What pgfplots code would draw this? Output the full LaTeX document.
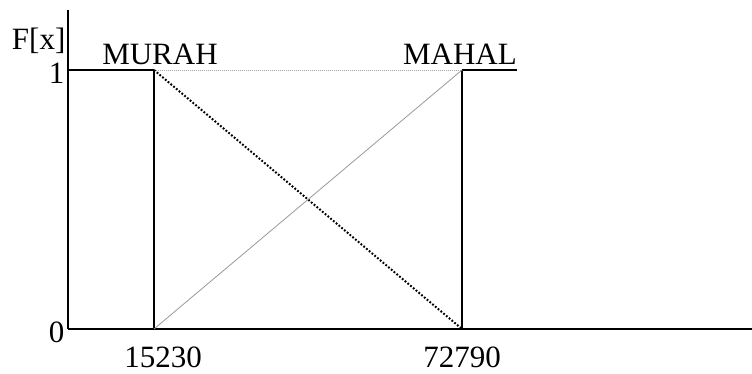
\documentclass[border=0pt]{standalone}
\usepackage{pgfplots}
\pgfplotsset{compat=1.18}
\usepackage{fontspec}
\setmainfont{Liberation Serif}
\begin{document}
\begin{tikzpicture}[x=1pt,y=1pt]
\useasboundingbox (0,0) rectangle (752,374);
\begin{axis}[
  at={(68pt,45pt)}, anchor=south west,
  scale only axis, width=684pt, height=319pt,
  xmin=-842, xmax=126985, ymin=0, ymax=1.2317,
  axis lines=left,
  axis line style={-, line width=1.4pt, black},
  scaled x ticks=false,
  xtick={15230,72790}, ytick={0,1},
  xticklabels={\hspace{18pt}15230,72790\hspace{6pt}}, yticklabels={0,1},
  major tick length=0pt,
  tick label style={font=\fontsize{31}{34}\selectfont, text=black},
  /pgf/number format/assume math mode=true,
  xticklabel style={yshift=-14pt},
  yticklabel style={yshift=-3pt},
  clip=false,
]
% MURAH membership (solid part)
\addplot[black, line width=1.4pt] coordinates {(-842,1) (15230,1)};
\addplot[black, line width=1.4pt] coordinates {(15230,0) (15230,1)};
\addplot[black, line width=1.4pt] coordinates {(72790,0) (72790,1)};
\addplot[black, line width=1.4pt] coordinates {(72790,1) (83070,1)};
% top dotted grey
\addplot[gray!70, line width=1pt, dash pattern=on 1pt off 1pt] coordinates {(15230,1) (72790,1)};
% MURAH falling edge (dotted)
\addplot[black, line width=2pt, dash pattern=on 1.8pt off 1.8pt] coordinates {(15230,1) (72790,0)};
% MAHAL rising edge (thin grey)
\addplot[gray!80, line width=0.8pt] coordinates {(15230,0) (72790,1)};
\node[anchor=base, inner sep=0pt, font=\fontsize{31}{34}\selectfont] at (axis cs:16350,1.02) {MURAH};
\node[anchor=base, inner sep=0pt, font=\fontsize{31}{34}\selectfont] at (axis cs:72400,1.02) {MAHAL};
\node[anchor=base east, inner sep=0pt, font=\fontsize{31}{34}\selectfont] at (axis cs:-1300,1.08) {F[x]};
\end{axis}
\end{tikzpicture}
\end{document}
